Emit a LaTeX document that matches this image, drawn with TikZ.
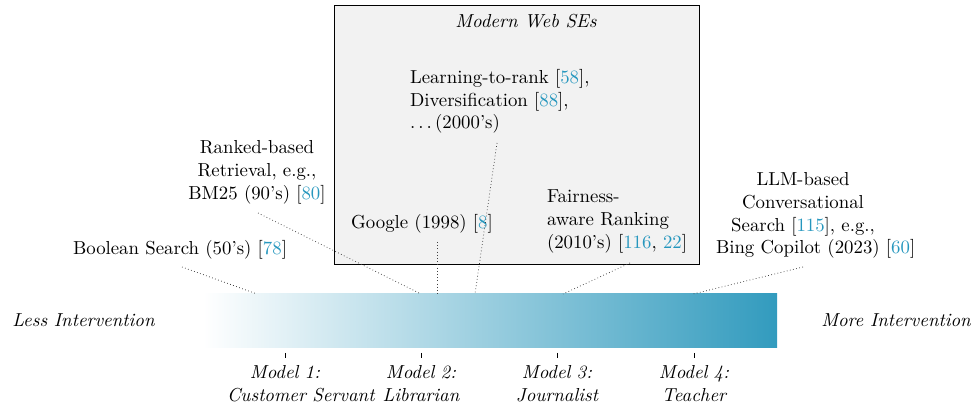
\documentclass[tikz,border=0pt]{standalone}
\usepackage{xcolor}
\definecolor{barc}{RGB}{50,155,190}
\definecolor{citec}{RGB}{38,151,190}
\newcommand{\cit}[1]{[\textcolor{citec}{#1}]}
\newcommand{\cn}[1]{\textcolor{citec}{#1}}
\newcommand{\mydots}{.\kern0.167em.\kern0.167em.\kern0.167em}
\begin{document}
\begin{tikzpicture}[x=0.532pt,y=-0.532pt,
  txt/.style={inner sep=0pt, outer sep=0pt, font=\normalsize},
  itl/.style={txt, font=\itshape},
  dotline/.style={black!75, line width=0.4pt, dash pattern=on 0.4pt off 1.3pt},
  seframe/.style={draw=black, line width=0.5pt, fill=black!5},
  tick/.style={black, line width=0.5pt},
  modellabel/.style={itl, text width=61.7pt, align=center}]
\useasboundingbox (0,0) rectangle (974,410);
% modern web SEs frame
\draw[seframe] (334,5) rectangle (699,264);
\node[itl, anchor=base] (title) at (526,28) {Modern Web SEs};
% gradient bar
\shade[left color=white, right color=barc] (203,294) rectangle (777,348);
\node[itl, anchor=base] (less) at (83.5,327) {Less Intervention};
\node[itl, anchor=base] (more) at (896,327) {More Intervention};
% event nodes
\node[txt, anchor=base] (bool) at (180,255) {Boolean Search (50's) \cit{78}};
\node[txt, anchor=base, text width=74.5pt, align=center] (rank) at (257,154)
  {Ranked-based\\ Retrieval, e.g.,\\ BM25 (90's) \cit{80}};
\node[txt, anchor=base] (google) at (422,229) {Google (1998) \cit{8}};
\node[txt, anchor=base west, text width=100pt, align=left] (ltr) at (410,83.5)
  {Learning-to-rank \cit{58},\\ Diversification \cit{88},\\ \mydots(2000's)};
\node[txt, anchor=base west, text width=78pt, align=left] (fair) at (547,203)
  {Fairness-\\ aware Ranking\\ (2010's) [\cn{116}, \cn{22}]};
\node[txt, anchor=base west, text width=92.6pt, align=center] (llm) at (716,186)
  {LLM-based\\ Conversational\\ Search \cit{115}, e.g.,\\ \mbox{Bing Copilot (2023) \cit{60}}};
% connector ends
\coordinate (s1) at (182,267); \coordinate (e1) at (257,294);
\coordinate (s2) at (258,213); \coordinate (e2) at (421,294);
\coordinate (s3) at (437,242); \coordinate (e3) at (437,294);
\coordinate (s4) at (497,143); \coordinate (e4) at (475,294);
\coordinate (s5) at (630,263); \coordinate (e5) at (563,294);
\coordinate (s6) at (803,267); \coordinate (e6) at (693,294);
\foreach \i in {1,...,6} \draw[dotline] (s\i) -- (e\i);
% ticks and model labels
\foreach \x/\n/\t in {285/1/Customer Servant, 421/2/Librarian, 557/3/Journalist, 694/4/Teacher}{
  \draw[tick] (\x,353) -- (\x,358);
  \node[modellabel, anchor=base] (m\n) at (\x,379) {Model \n:\\ \mbox{\t}};
}
\end{tikzpicture}
\end{document}
